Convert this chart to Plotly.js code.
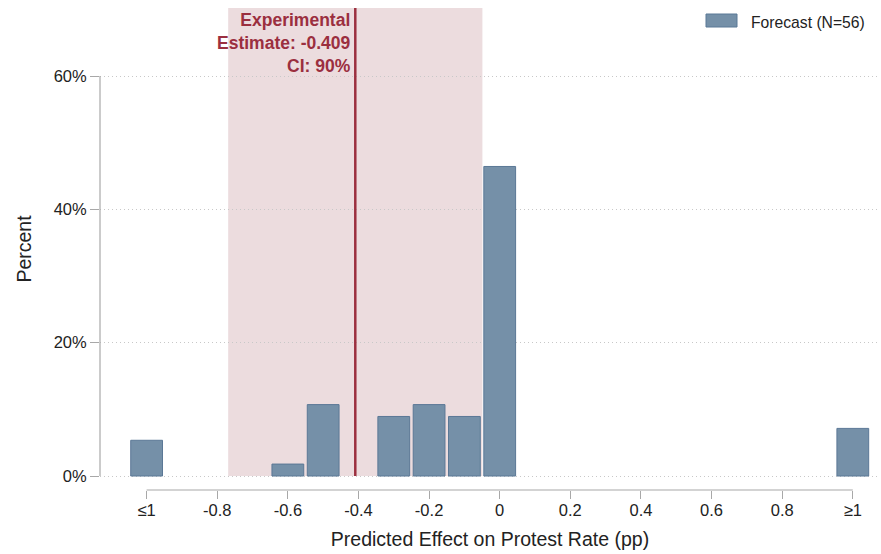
<!DOCTYPE html>
<html>
<head>
<meta charset="utf-8">
<script src="https://cdn.plot.ly/plotly-3.0.1.min.js"></script>
<style>
  html, body { margin: 0; padding: 0; background: #fff; }
  #chart { width: 881px; height: 554px; }
</style>
</head>
<body>
<div id="chart"></div>
<script>
// Forecast distribution of predicted effects (binned, percent of respondents)
const binCenters = [-1, -0.6, -0.5, -0.3, -0.2, -0.1, 0, 1];
const binPercent = [5.36, 1.79, 10.71, 8.93, 10.71, 8.93, 46.43, 7.14];

const tickValues = [-1, -0.8, -0.6, -0.4, -0.2, 0, 0.2, 0.4, 0.6, 0.8, 1];
const tickLabels = ['≤1', '-0.8', '-0.6', '-0.4', '-0.2', '0', '0.2', '0.4', '0.6', '0.8', '≥1'];
const yTickValues = [0, 20, 40, 60];
const yTickLabels = ['0%', '20%', '40%', '60%'];

// Experimental estimate and its 90% confidence interval
const estimate = -0.409;
const ciBounds = [-0.769, -0.049];
const legendLabel = 'Forecast (N=56)';

const FONT = '"Liberation Sans Narrow", "Arial Narrow", "Liberation Sans", Arial, sans-serif';
const BAR_FILL = '#7590a8';
const BAR_EDGE = '#5b7896';
const RED = '#9b2f3f';
const AXIS_GREY = '#a8a8a8';

const trace = {
  type: 'bar',
  x: binCenters,
  y: binPercent,
  width: 0.09,
  marker: { color: BAR_FILL, line: { color: BAR_EDGE, width: 1 } },
  name: legendLabel,
  showlegend: false,
  hoverinfo: 'x+y'
};

const layout = {
  width: 881,
  height: 554,
  margin: { l: 100, r: 1, t: 8, b: 64 },
  paper_bgcolor: '#fff',
  plot_bgcolor: '#fff',
  font: { family: FONT, size: 16, color: '#222' },
  bargap: 0,
  xaxis: {
    range: [-1.132, 1.077],
    tickvals: tickValues,
    ticktext: tickLabels,
    ticks: 'outside',
    ticklen: 8,
    tickwidth: 1,
    tickcolor: AXIS_GREY,
    ticklabelstandoff: -3,
    showgrid: false,
    zeroline: false,
    showline: false,
    tickfont: { size: 16.5, color: '#222' },
    title: { text: 'Predicted Effect on Protest Rate (pp)', font: { size: 19.5, color: '#222' }, standoff: 14 }
  },
  yaxis: {
    range: [-2.1, 70.2],
    tickvals: yTickValues,
    ticktext: yTickLabels,
    ticks: 'outside',
    ticklen: 9,
    tickwidth: 1,
    tickcolor: AXIS_GREY,
    showgrid: true,
    gridcolor: '#c8c8c8',
    griddash: '1px,3px',
    gridwidth: 1,
    zeroline: false,
    showline: false,
    tickfont: { size: 16.5, color: '#222' },
    title: { text: 'Percent', font: { size: 19.5, color: '#222' }, standoff: 16 }
  },
  shapes: [
    // confidence interval band
    { type: 'rect', xref: 'x', yref: 'paper', layer: 'below',
      x0: ciBounds[0], x1: ciBounds[1], y0: 0, y1: 1,
      fillcolor: '#ecdcde', line: { width: 0 } },
    // keep the band from reaching below the zero baseline
    { type: 'rect', xref: 'x', yref: 'y', layer: 'below',
      x0: ciBounds[0] - 0.01, x1: ciBounds[1] + 0.01, y0: -2.1, y1: 0,
      fillcolor: '#ffffff', line: { width: 0 } },
    // estimate line
    { type: 'line', xref: 'x', yref: 'y',
      x0: estimate, x1: estimate, y0: 0, y1: 70.2,
      line: { color: RED, width: 2.5 } },
    // y axis line from 0% to 60%
    { type: 'line', xref: 'paper', yref: 'y',
      x0: 0, x1: 0, y0: 0, y1: 60,
      line: { color: AXIS_GREY, width: 1.2 } },
    // x axis line between the end ticks
    { type: 'line', xref: 'x', yref: 'paper',
      x0: tickValues[0], x1: tickValues[tickValues.length - 1], y0: 0, y1: 0,
      line: { color: AXIS_GREY, width: 1.2 } },
    // legend swatch
    { type: 'rect', xref: 'paper', yref: 'paper',
      x0: (706 - 100) / 780, x1: (737 - 100) / 780,
      y0: (490 - 27) / 482, y1: (490 - 14) / 482,
      fillcolor: BAR_FILL, line: { color: BAR_EDGE, width: 1 } }
  ],
  annotations: [
    { xref: 'x', yref: 'paper', x: estimate - 0.006, y: 1, xanchor: 'right', yanchor: 'top',
      align: 'right', showarrow: false,
      text: 'Experimental<br>Estimate: ' + estimate.toFixed(3) + '<br>CI: 90%',
      font: { family: FONT, size: 17.5, color: RED, weight: 'bold' } },
    { xref: 'paper', yref: 'paper', x: (749 - 100) / 780, y: (490 - 22.5) / 482,
      xanchor: 'left', yanchor: 'middle', showarrow: false,
      text: legendLabel, font: { family: FONT, size: 15.7, color: '#222' } }
  ]
};

Plotly.newPlot('chart', [trace], layout, { displayModeBar: false, staticPlot: true });
</script>
</body>
</html>
